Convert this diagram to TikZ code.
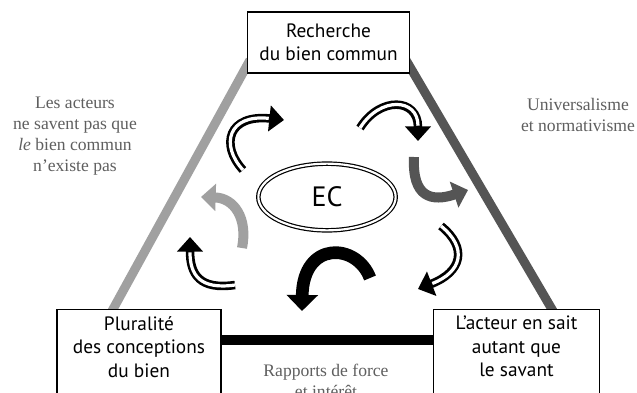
\documentclass[tikz,border=0pt]{standalone}
\usepackage{fontspec}
\setmainfont{Liberation Serif}
\newfontfamily\ptsans{PT Sans}
\usetikzlibrary{arrows.meta,shapes.geometric,positioning}
\definecolor{lightside}{RGB}{160,160,160}
\definecolor{darkside}{RGB}{85,85,85}
\definecolor{notegray}{RGB}{95,95,95}

\begin{document}
\begin{tikzpicture}[x=0.75pt,y=-0.75pt,
    box/.style={draw, line width=0.9pt, fill=white, align=center, inner xsep=0pt,
        font=\ptsans\fontsize{14.5}{17.6}\selectfont},
    note/.style={align=center, text=notegray, font=\fontsize{13.2}{15.75}\selectfont},
    side/.style={line width=6.8pt},
    dblarrow/.style={line width=6.4pt, -{Triangle[length=11pt,width=19pt]},
        postaction={draw=white, line width=2.4pt, -, shorten >=11.5pt}},
    fatarrow/.style={line width=7.5pt, -{Triangle[length=11pt,width=20pt]}}
]
\clip (0,0) rectangle (637,393);
\fill[white] (0,0) rectangle (637,393);

% sides of the triangle
\draw[side, lightside] (112,311) -- (250,60);
\draw[side, darkside] (403,55) -- (553,311);

% corners
\node[box, minimum width=122pt, minimum height=45.75pt] (rbc) at (328.5,42.5)
    {Recherche\\du bien commun};
\node[box, anchor=north, minimum width=123pt, inner ysep=5pt, text depth=50pt] (plur) at (139,309)
    {Pluralité\\des conceptions\\du bien};
\node[box, anchor=north, minimum width=125pt, inner ysep=5pt, text depth=50pt] (act) at (516.5,309)
    {L’acteur en sait\\autant que\\le savant};

% bottom side
\path (plur.north east) ++(0,31) coordinate (b1);
\draw[line width=7.5pt] (b1) -- (b1 -| act.west);

% side labels
\node[note] (ignore) at (75,136.5) {Les acteurs\\ne savent pas que\\\textit{le} bien commun\\n’existe pas};
\node[note] (univ) at (578,115) {Universalisme\\et normativisme};
\node[note] (force) at (326,381) {Rapports de force\\et intérêt};

% centre
\node[ellipse, draw, double, line width=0.9pt, double distance=1.6pt,
    minimum width=103pt, minimum height=50pt,
    font=\ptsans\fontsize{21}{24}\selectfont] (ec) at (327,197) {EC};

% cycle arrows
\draw[dblarrow] (243,170) .. controls (220,145) and (228,114) .. (284,120);
\draw[dblarrow] (360,128) .. controls (380,96) and (418,98) .. (418,141);
\draw[fatarrow, darkside] (414,157) .. controls (412,198) and (432,202) .. (468,190);
\draw[dblarrow] (441,226) .. controls (468,248) and (462,272) .. (418,289);
\draw[fatarrow, line width=9.5pt, -{Triangle[length=12pt,width=23pt]}] (370,278) .. controls (357,243) and (303,240) .. (302,311);
\draw[fatarrow, lightside] (242,248) .. controls (248,218) and (234,198) .. (201,197);
\draw[dblarrow] (235,285) .. controls (200,290) and (190,275) .. (190,237);
\end{tikzpicture}
\end{document}
